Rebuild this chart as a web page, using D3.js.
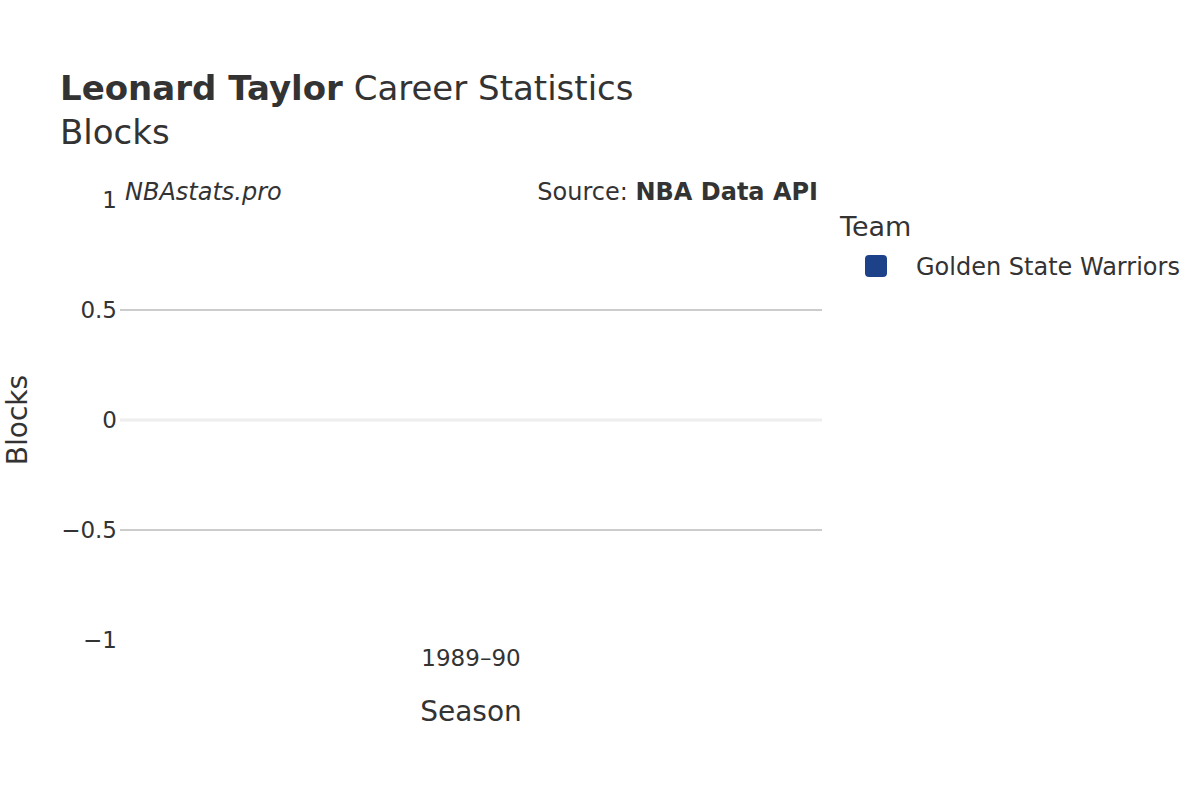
<!DOCTYPE html>
<html><head><meta charset="utf-8">
<script src="https://cdn.jsdelivr.net/npm/d3@7"></script>
<style>body{margin:0;background:#fff}text{font-family:"DejaVu Sans",sans-serif;fill:#333}</style>
</head><body><svg id="c" width="1200" height="800"></svg>
<script>
const seasons=["1989–90"];
const blocks=[0];
const yTicks=[-1,-0.5,0,0.5,1];
const teams=["Golden State Warriors"];
const teamColors=["#1d428a"];

const svg=d3.select("#c");
const L=120,R=822,T=200,B=640;
const x=d3.scaleBand().domain(seasons).range([L,R]).padding(0.2);
const y=d3.scaleLinear().domain([-1,1]).range([B,T]);

svg.append("g").selectAll("line").data(yTicks.filter(d=>Math.abs(d)===0.5)).join("line")
 .attr("x1",L).attr("x2",R).attr("y1",d=>y(d)).attr("y2",d=>y(d)).attr("stroke","#bbb").attr("stroke-width",1.5);
svg.append("line").attr("x1",L).attr("x2",R).attr("y1",y(0)).attr("y2",y(0)).attr("stroke","#eee").attr("stroke-width",3);
svg.append("g").selectAll("rect").data(blocks).join("rect")
 .attr("x",(d,i)=>x(seasons[i])).attr("width",x.bandwidth())
 .attr("y",d=>Math.min(y(d),y(0))).attr("height",d=>Math.abs(y(d)-y(0))).attr("fill",teamColors[0]);

svg.append("g").selectAll("text").data(yTicks).join("text")
 .attr("x",L-3).attr("y",d=>y(d)+8).attr("text-anchor","end").attr("font-size",23)
 .text(d=>d3.format("")(d).replace("-","−"));
svg.append("g").selectAll("text").data(seasons).join("text")
 .attr("x",d=>x(d)+x.bandwidth()/2).attr("y",666).attr("text-anchor","middle").attr("font-size",23).text(d=>d);

svg.append("text").attr("x",471).attr("y",721).attr("text-anchor","middle").attr("font-size",28).text("Season");
svg.append("text").attr("transform","translate(27,420) rotate(-90)").attr("text-anchor","middle").attr("font-size",28).text("Blocks");

const t=svg.append("text").attr("x",60).attr("y",100).attr("font-size",34);
t.append("tspan").attr("font-weight","bold").text("Leonard Taylor");
t.append("tspan").text(" Career Statistics");
svg.append("text").attr("x",60).attr("y",144).attr("font-size",34).text("Blocks");

svg.append("text").attr("x",125).attr("y",200).attr("font-size",24).attr("font-style","italic").text("NBAstats.pro");
const s=svg.append("text").attr("x",818).attr("y",200).attr("font-size",24).attr("text-anchor","end");
s.append("tspan").text("Source: ");
s.append("tspan").attr("font-weight","bold").text("NBA Data API");

svg.append("text").attr("x",840).attr("y",236).attr("font-size",27).text("Team");
const lg=svg.append("g").selectAll("g").data(teams).join("g").attr("transform",(d,i)=>`translate(0,${266+i*30})`);
lg.append("rect").attr("x",865).attr("y",-11).attr("width",22).attr("height",22).attr("rx",4).attr("fill",(d,i)=>teamColors[i]);
lg.append("text").attr("x",916).attr("y",9).attr("font-size",24).text(d=>d);
</script></body></html>
